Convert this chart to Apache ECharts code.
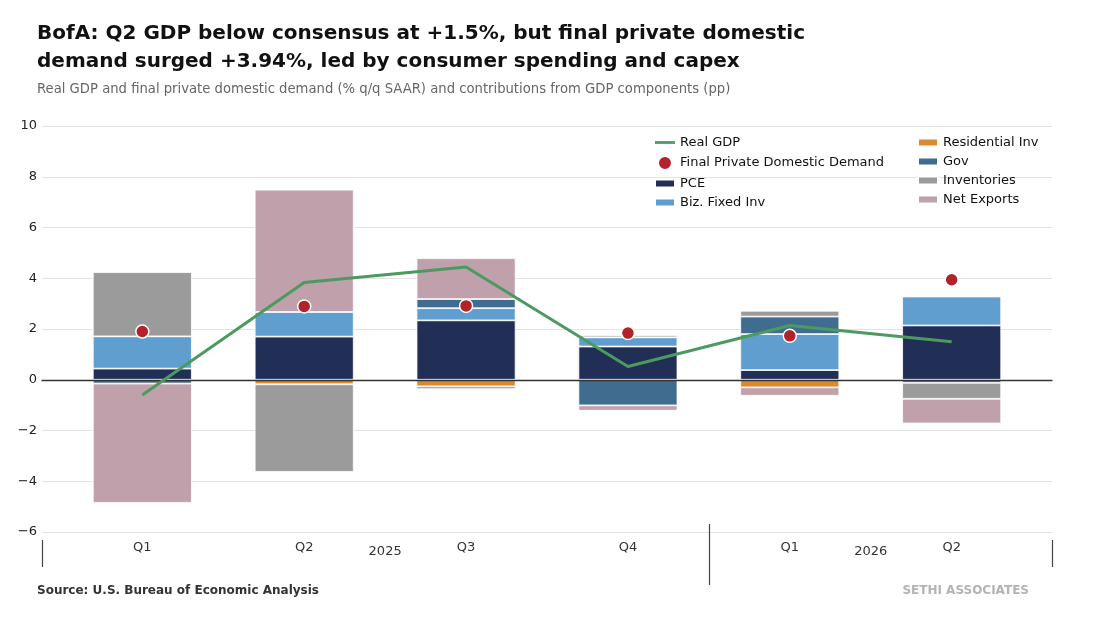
<!DOCTYPE html>
<html>
<head>
<meta charset="utf-8">
<script src="https://cdn.jsdelivr.net/npm/echarts@6/dist/echarts.min.js"></script>
<style>
html,body{margin:0;padding:0;background:#fff;}
#chart{width:1100px;height:620px;}
</style>
</head>
<body>
<div id="chart"></div>
<script>
// ---- data ----
const quarters = ['Q1', 'Q2', 'Q3', 'Q4', 'Q1', 'Q2'];
const years = ['2025', '2026'];
const yearPositions = [1.5, 4.5];
const yearBoundary = [3.5];
const pce = [0.44, 1.70, 2.34, 1.31, 0.38, 2.14];
const bizFixedInv = [1.27, 0.97, 0.48, 0.36, 1.42, 1.14];
const residentialInv = [0, -0.18, -0.26, 0, -0.30, 0.04];
const gov = [-0.15, 0, 0.36, -1.01, 0.69, -0.12];
const inventories = [2.53, -3.45, -0.11, 0.08, 0.23, -0.63];
const netExports = [-4.70, 4.82, 1.61, -0.21, -0.33, -0.97];
const realGdp = [-0.6, 3.83, 4.44, 0.52, 2.14, 1.5];
const finalPrivateDomesticDemand = [1.90, 2.89, 2.91, 1.84, 1.73, 3.94];
const yTicks = { min: -6, max: 10, interval: 2 };

// ---- chart ----
const FONT = 'DejaVu Sans';
const rectIcon = 'path://M0,0H20V8H0Z';
const lineIcon = 'path://M0,0H22V3H0Z';
const XMIN = -0.62, XMAX = 5.62;

const barDefs = [
  ['PCE', pce, '#212e55'],
  ['Biz. Fixed Inv', bizFixedInv, '#5f9ecf'],
  ['Residential Inv', residentialInv, '#d98a2f'],
  ['Gov', gov, '#3f6c8f'],
  ['Inventories', inventories, '#9b9b9b'],
  ['Net Exports', netExports, '#bfa0ab']
];

const barSeries = barDefs.map(([name, values, color]) => ({
  name: name,
  type: 'bar',
  xAxisIndex: 2,
  yAxisIndex: 1,
  stack: 'contrib',
  barWidth: 99,
  data: values,
  itemStyle: { color: color, borderColor: '#ffffff', borderWidth: 0.8 },
  emphasis: { disabled: true },
  z: 2
}));

const chart = echarts.init(document.getElementById('chart'), null, { renderer: 'canvas' });

const option = {
  backgroundColor: '#ffffff',
  animation: false,
  textStyle: { fontFamily: FONT },
  title: [
    {
      text: 'BofA: Q2 GDP below consensus at +1.5%, but final private domestic\ndemand surged +3.94%, led by consumer spending and capex',
      left: 32, top: 15,
      textStyle: { fontFamily: FONT, fontSize: 20, fontWeight: 'bold', color: '#111111', lineHeight: 28 }
    },
    {
      text: 'Real GDP and final private domestic demand (% q/q SAAR) and contributions from GDP components (pp)',
      left: 32, top: 78,
      textStyle: { fontFamily: FONT, fontSize: 13.2, fontWeight: 'normal', color: '#666666' }
    },
    {
      text: 'Source: U.S. Bureau of Economic Analysis',
      left: 32, top: 580,
      textStyle: { fontFamily: FONT, fontSize: 12, fontWeight: 'bold', color: '#333333' }
    },
    {
      text: 'SETHI ASSOCIATES',
      right: 66, top: 580,
      textStyle: { fontFamily: FONT, fontSize: 12, fontWeight: 'bold', color: '#b3b3b3' }
    }
  ],
  legend: [
    {
      orient: 'vertical', left: 649, top: 131,
      itemWidth: 20, itemHeight: 14, itemGap: 6,
      textStyle: { fontFamily: FONT, fontSize: 13, color: '#111111' },
      data: [
        { name: 'Real GDP', icon: lineIcon },
        { name: 'Final Private Domestic Demand', icon: 'circle' },
        { name: 'PCE', icon: rectIcon },
        { name: 'Biz. Fixed Inv', icon: rectIcon }
      ]
    },
    {
      orient: 'vertical', left: 912, top: 131,
      itemWidth: 20, itemHeight: 14, itemGap: 6,
      textStyle: { fontFamily: FONT, fontSize: 13, color: '#111111' },
      data: [
        { name: 'Residential Inv', icon: rectIcon },
        { name: 'Gov', icon: rectIcon },
        { name: 'Inventories', icon: rectIcon },
        { name: 'Net Exports', icon: rectIcon }
      ]
    }
  ],
  grid: [
    { left: 42, right: 48, top: 126, bottom: 88 },
    { left: 61.4, right: 67.4, top: 126, bottom: 88 }
  ],
  xAxis: [
    { // year labels and outer separators
      type: 'value', gridIndex: 0, min: XMIN, max: XMAX, position: 'bottom', offset: 8,
      axisLine: { show: false, onZero: false },
      splitLine: { show: false },
      axisTick: { show: true, customValues: [XMIN, XMAX], length: 27, lineStyle: { color: '#444444', width: 1.2 } },
      axisLabel: {
        customValues: yearPositions, margin: 5, fontFamily: FONT, fontSize: 13, color: '#333333',
        formatter: v => years[yearPositions.indexOf(v)] || ''
      }
    },
    { // year boundary
      type: 'value', gridIndex: 0, min: XMIN, max: XMAX, position: 'bottom', offset: -8,
      axisLine: { show: false, onZero: false },
      splitLine: { show: false },
      axisTick: { show: true, customValues: yearBoundary, length: 61, lineStyle: { color: '#444444', width: 1.2 } },
      axisLabel: { show: false }
    },
    { // quarters
      type: 'category', gridIndex: 1, data: quarters, position: 'bottom',
      axisLine: { show: false, onZero: false },
      axisTick: { show: false },
      axisLabel: { margin: 9, fontFamily: FONT, fontSize: 13, color: '#333333' }
    },
    { // zero line
      type: 'value', gridIndex: 0, min: XMIN, max: XMAX, position: 'bottom',
      axisLine: { show: true, onZero: true, lineStyle: { color: '#333333', width: 1.3 } },
      axisTick: { show: false }, axisLabel: { show: false }, splitLine: { show: false },
      z: 5
    }
  ],
  yAxis: [
    {
      type: 'value', gridIndex: 0, min: yTicks.min, max: yTicks.max, interval: yTicks.interval,
      axisLine: { show: false }, axisTick: { show: false },
      axisLabel: { margin: 5, fontFamily: FONT, fontSize: 13, color: '#222222', formatter: v => String(v).replace('-', '\u2212') },
      splitLine: { show: true, lineStyle: { color: '#e3e3e3', width: 1 } }
    },
    {
      type: 'value', gridIndex: 1, min: yTicks.min, max: yTicks.max, interval: yTicks.interval,
      show: false, splitLine: { show: false }
    }
  ],
  series: barSeries.concat([
    {
      name: 'Real GDP', type: 'line', xAxisIndex: 2, yAxisIndex: 1,
      data: realGdp, symbol: 'none',
      lineStyle: { color: '#4c9a60', width: 3 },
      itemStyle: { color: '#4c9a60' },
      emphasis: { disabled: true },
      z: 6
    },
    {
      name: 'Final Private Domestic Demand', type: 'scatter', xAxisIndex: 2, yAxisIndex: 1,
      data: finalPrivateDomesticDemand, symbol: 'circle', symbolSize: 13,
      itemStyle: { color: '#b3222a', borderColor: '#ffffff', borderWidth: 1.5, opacity: 1 },
      emphasis: { disabled: true },
      z: 7
    }
  ])
};

chart.setOption(option);
</script>
</body>
</html>
